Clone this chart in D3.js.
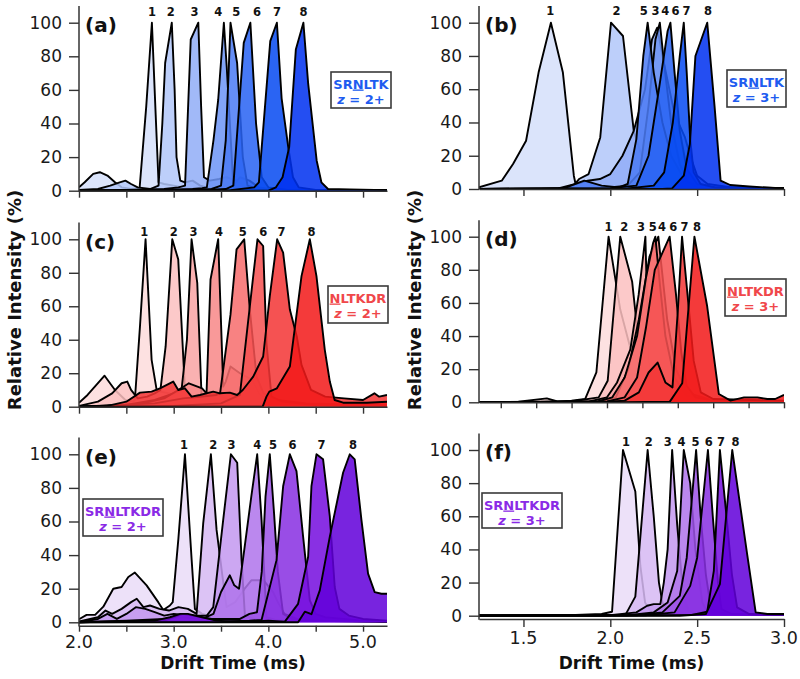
<!DOCTYPE html>
<html><head><meta charset="utf-8">
<script src="https://cdn.jsdelivr.net/npm/d3@7"></script>
<style>body{margin:0;background:#fff} svg{display:block} text{font-family:"DejaVu Sans",Verdana,sans-serif}</style>
</head><body><svg id="c" width="800" height="679"></svg>
<script>
// ---------------- DATA ----------------
const panelLetters = ["(a)","(b)","(c)","(d)","(e)","(f)"];
const legendNames = ["SRNLTK","SRNLTK","NLTKDR","NLTKDR","SRNLTKDR","SRNLTKDR"];
const legendUnderline = [2,2,0,0,2,2];
const legendCharges = ["2+","3+","2+","3+","2+","3+"];
const peakNames = ["1","2","3","4","5","6","7","8"];
const yTicks = [0,20,40,60,80,100];
const xTicksLeft = [2.0,2.5,3.0,3.5,4.0,4.5,5.0];
const xTickLabelsLeft = {2.0:"2.0",3.0:"3.0",4.0:"4.0",5.0:"5.0"};
const xTicksRight = [1.5,2.0,2.5,3.0];
const xTickLabelsRight = {1.5:"1.5",2.0:"2.0",2.5:"2.5",3.0:"3.0"};
const xTicksD = [1.4,1.6,1.8,2.0,2.2,2.4,2.6,2.8,3.0];
const xAxisTitle = "Drift Time (ms)";
const yAxisTitle = "Relative Intensity (%)";

// (a) SRNLTK 2+
const seriesA = [
 [[2.0,2],[2.06,5],[2.15,10],[2.22,11],[2.3,9],[2.38,5],[2.45,2],[2.55,1],[2.64,1.5],[2.71,50],[2.77,100],[2.81,45],[2.84,5],[2.9,4],[3.0,3],[3.1,2],[3.3,1],[3.6,0.5],[5.253,0.3]],
 [[2.0,0.5],[2.2,1],[2.33,3],[2.43,5],[2.49,6],[2.55,4],[2.62,2],[2.75,1],[2.84,3],[2.88,40],[2.91,76],[2.98,100],[3.01,60],[3.03,20],[3.07,6],[3.12,5],[3.2,6],[3.28,3],[3.4,1],[3.8,0.5],[5.253,0.3]],
 [[2.0,0],[2.5,0.5],[2.9,1],[3.05,2],[3.12,3],[3.18,90],[3.26,100],[3.29,50],[3.32,8],[3.38,6],[3.48,7],[3.56,8],[3.66,6],[3.74,3],[3.85,1],[4.2,0.5],[5.253,0.3]],
 [[2.0,0],[2.8,0.5],[3.2,1],[3.3,1.5],[3.35,2],[3.42,30],[3.47,54],[3.53,100],[3.56,74],[3.63,3],[3.7,8],[3.8,6],[3.9,2],[4.1,0.5],[5.253,0.3]],
 [[2.0,0],[3.0,0.3],[3.4,1],[3.5,3],[3.55,30],[3.58,70],[3.6,100],[3.67,76],[3.73,20],[3.78,3],[3.9,1],[4.2,0.5],[5.253,0.3]],
 [[2.0,0],[3.3,0.3],[3.55,1],[3.63,3],[3.74,88],[3.81,100],[3.87,40],[3.93,8],[4.0,2],[4.2,0.5],[5.253,0.3]],
 [[2.0,0],[3.6,0.3],[3.85,2],[3.9,5],[4.02,89],[4.09,100],[4.14,55],[4.21,26],[4.26,8],[4.32,2],[4.5,0.5],[5.253,0.3]],
 [[2.0,0],[4.0,0],[4.08,2],[4.15,8],[4.22,26],[4.29,84],[4.37,100],[4.42,64],[4.51,18],[4.56,5],[4.63,1],[4.86,0.8],[5.253,0.3]]
];
const labelXA = [2.77,2.97,3.22,3.47,3.66,3.88,4.09,4.37];

// (b) SRNLTK 3+
const seriesB = [
 [[1.244,1],[1.375,5],[1.44,15],[1.515,29],[1.587,70],[1.658,100],[1.727,70],[1.79,8],[1.80,3],[1.87,2],[1.95,1],[2.1,0.5],[3.0,0]],
 [[1.244,0],[1.6,0],[1.72,0.5],[1.78,1],[1.82,6],[1.875,9],[1.942,31],[2.004,100],[2.073,92],[2.135,35],[2.21,10],[2.27,3],[2.35,1],[3.0,0.5]],
 [[1.244,0],[1.7,0.3],[1.80,3],[1.87,5],[1.94,6],[2.0,9],[2.07,20],[2.135,35],[2.2,60],[2.24,90],[2.27,97],[2.31,75],[2.37,45],[2.43,31],[2.46,20],[2.5,8],[2.56,3],[2.7,1],[3.0,0.5]],
 [[1.244,0],[1.95,0.5],[2.1,2],[2.17,10],[2.22,50],[2.26,90],[2.285,100],[2.31,75],[2.35,40],[2.4,15],[2.45,4],[2.55,1],[3.0,0.3]],
 [[1.244,0],[1.73,0.3],[1.85,5],[1.95,2],[2.05,1],[2.1,3],[2.15,30],[2.19,80],[2.215,100],[2.25,70],[2.3,40],[2.35,20],[2.43,5],[2.5,1],[3.0,0.3]],
 [[1.244,0],[2.0,0.5],[2.15,2],[2.22,20],[2.28,60],[2.33,95],[2.346,100],[2.37,70],[2.40,35],[2.44,12],[2.5,3],[2.6,1],[3.0,0.3]],
 [[1.244,0],[2.1,0.3],[2.25,2],[2.31,10],[2.36,40],[2.40,80],[2.423,100],[2.44,70],[2.46,30],[2.48,10],[2.52,3],[2.6,1],[3.0,0.3]],
 [[1.244,0],[2.3,0],[2.356,0.4],[2.423,8],[2.458,27],[2.49,80],[2.558,100],[2.6,50],[2.635,5],[2.69,2.4],[2.8,1.5],[3.0,0.3]]
];
const labelXB = [1.654,2.035,2.26,2.317,2.192,2.375,2.438,2.562];

// (c) NLTKDR 2+
const seriesC = [
 [[2.0,2.4],[2.09,7],[2.27,18.5],[2.38,10],[2.49,4],[2.57,3],[2.59,4],[2.644,48],[2.703,100],[2.767,28],[2.82,10],[2.86,9],[2.95,8],[3.1,5],[3.3,3],[3.6,1],[5.253,0.5]],
 [[2.0,0.5],[2.2,3],[2.35,8],[2.45,14],[2.51,15],[2.55,10],[2.62,5],[2.72,6],[2.8,8],[2.86,10],[2.915,36],[2.985,100],[3.048,88],[3.119,10],[3.2,6],[3.35,4],[3.6,2],[5.253,0.5]],
 [[2.0,0],[2.5,1],[2.8,4],[3.0,8],[3.083,10],[3.14,40],[3.189,100],[3.249,74],[3.294,7],[3.35,6],[3.42,8],[3.5,6],[3.6,4],[3.8,2],[4.2,1],[5.253,0.5]],
 [[2.0,0],[2.6,1],[2.9,5],[3.05,10],[3.16,14],[3.30,11],[3.347,8],[3.389,76],[3.47,100],[3.523,12],[3.55,15],[3.60,24],[3.7,20],[3.83,16],[3.9,8],[4.0,3],[4.3,1],[5.253,0.5]],
 [[2.0,0],[2.8,2],[3.1,5],[3.3,6],[3.45,7],[3.49,8],[3.6,55],[3.664,94],[3.745,100],[3.804,58],[3.875,18],[3.95,8],[4.1,4],[4.4,2],[5.253,1]],
 [[2.0,0],[3.0,0.5],[3.5,2],[3.699,7],[3.84,78],[3.885,100],[3.945,96],[3.98,38],[4.033,6],[4.15,3],[4.5,1],[5.253,0.5]],
 [[2.0,0],[2.3,0.5],[2.5,3],[2.644,8.4],[2.767,9],[2.855,11],[2.995,15],[3.048,10],[3.119,11],[3.189,6],[3.277,7],[3.418,9],[3.488,8],[3.593,8.4],[3.67,7],[3.73,10],[3.84,18],[3.945,30],[4.015,66],[4.093,100],[4.156,92],[4.227,58],[4.3,42],[4.35,25],[4.45,10],[4.6,6],[4.8,5],[5.0,4],[5.12,8],[5.17,6],[5.253,7]],
 [[2.0,0],[3.94,0],[3.98,6],[4.01,9],[4.09,11],[4.227,24],[4.35,78],[4.438,100],[4.508,78],[4.596,34],[4.649,15],[4.70,4],[4.79,2.4],[5.04,2.4],[5.253,3]]
];
const labelXC = [2.69,3.0,3.21,3.48,3.73,3.945,4.14,4.455];

// (d) NLTKDR 3+
const seriesD = [
 [[1.277,0],[1.5,0.3],[1.66,2.4],[1.72,0.5],[1.8,1],[1.877,2],[1.94,18],[2.009,100],[2.075,56],[2.151,25],[2.226,5],[2.3,2],[2.5,1],[3.0,0.5]],
 [[1.277,0],[1.8,0.5],[1.953,3],[2.004,13],[2.034,50],[2.075,100],[2.142,73],[2.17,45],[2.217,17],[2.264,3],[2.35,1],[3.0,0.5]],
 [[1.277,0],[1.9,0.5],[2.0,3],[2.057,12],[2.132,32],[2.179,65],[2.217,100],[2.235,25],[2.27,8],[2.35,3],[2.5,1],[3.0,0.5]],
 [[1.277,0],[1.95,0.5],[2.05,3],[2.12,20],[2.18,50],[2.24,88],[2.29,100],[2.31,80],[2.34,50],[2.39,20],[2.45,6],[2.6,1],[3.0,0.5]],
 [[1.277,0],[1.95,0.5],[2.03,3],[2.1,15],[2.17,40],[2.22,75],[2.26,96],[2.273,100],[2.3,70],[2.33,40],[2.38,15],[2.45,4],[2.6,1],[3.0,0.5]],
 [[1.277,0],[2.0,0.5],[2.1,3],[2.17,15],[2.22,45],[2.27,80],[2.354,100],[2.39,65],[2.42,30],[2.45,10],[2.5,3],[2.6,1],[3.0,0.5]],
 [[1.277,0],[2.0,0.3],[2.1,1],[2.18,6],[2.235,18],[2.286,24],[2.33,12],[2.37,9],[2.40,55],[2.424,100],[2.455,65],[2.49,25],[2.53,6],[2.6,2],[3.0,1]],
 [[1.277,0],[2.1,0],[2.355,0.4],[2.425,11.5],[2.494,100],[2.566,58],[2.632,5],[2.698,1],[2.774,3],[2.85,3],[2.906,2],[2.95,2],[3.0,4.5]]
];
const labelXD = [2.009,2.098,2.192,2.311,2.258,2.374,2.438,2.509];

// (e) SRNLTKDR 2+
const seriesE = [
 [[2.0,1.8],[2.08,4.4],[2.17,4.4],[2.257,9.3],[2.362,20],[2.45,21],[2.521,27],[2.59,29.6],[2.714,22],[2.837,12],[2.89,7.3],[2.96,10],[2.99,12],[3.05,50],[3.119,100],[3.19,37],[3.224,8],[3.3,5],[3.45,3],[3.6,2],[4.0,1],[5.253,0.5]],
 [[2.0,0.5],[2.2,3],[2.28,7],[2.35,5],[2.45,8],[2.55,12],[2.61,14],[2.68,9],[2.75,10],[2.85,8],[2.95,7],[3.05,9],[3.15,8],[3.242,5],[3.312,59],[3.393,100],[3.453,55],[3.516,27],[3.558,9],[3.65,12],[3.75,20],[3.82,25],[3.95,25],[4.05,18],[4.1,12],[4.17,5],[4.3,2],[4.6,1],[5.253,0.5]],
 [[2.0,0],[2.2,2],[2.3,5],[2.4,2],[2.5,5],[2.6,9],[2.7,8],[2.8,6],[2.9,4],[3.0,5],[3.2,4],[3.35,4],[3.418,9],[3.523,61],[3.604,100],[3.671,95],[3.717,37],[3.752,4],[3.85,2],[4.2,1],[5.253,0.5]],
 [[2.0,0],[2.5,1],[2.9,2],[3.1,3],[3.3,2],[3.42,5],[3.50,18],[3.593,28],[3.64,22],[3.69,20],[3.75,45],[3.82,75],[3.882,100],[3.928,61],[3.98,3],[4.1,1],[5.253,0.5]],
 [[2.0,0],[2.9,1],[3.1,5],[3.2,4],[3.4,2],[3.7,2],[3.8,5],[3.88,6],[3.93,30],[3.97,75],[4.015,100],[4.06,65],[4.1,30],[4.156,5],[4.25,2],[4.5,1],[5.253,0.5]],
 [[2.0,0],[3.5,0.5],[3.8,1],[3.928,1.4],[4.086,37],[4.156,81],[4.227,100],[4.297,90],[4.367,51],[4.438,13],[4.5,5],[4.6,3],[5.0,1],[5.253,0.5]],
 [[2.0,0],[2.8,1],[2.96,3],[3.07,5],[3.15,5],[3.3,3],[3.45,1],[3.6,0.5],[3.85,0.5],[4.0,1],[4.174,0.4],[4.314,11],[4.42,39],[4.455,81],[4.508,100],[4.578,97],[4.649,63],[4.701,21],[4.75,8],[4.85,4],[5.0,2],[5.253,1]],
 [[2.0,0],[4.314,0],[4.385,6.3],[4.455,4.8],[4.543,19],[4.649,51],[4.789,89],[4.86,100],[4.912,97],[4.983,61],[5.053,29],[5.123,18],[5.194,17],[5.253,17]]
];
const labelXE = [3.108,3.418,3.611,3.882,4.05,4.255,4.561,4.895];

// (f) SRNLTKDR 3+
const seriesF = [
 [[1.244,0.3],[1.6,0.3],[1.8,0.5],[1.95,1],[2.01,2.4],[2.073,100],[2.144,75],[2.173,30],[2.2,8],[2.23,3],[2.3,1],[3.0,0.5]],
 [[1.244,0],[1.9,0.3],[2.087,0.5],[2.144,11.5],[2.215,100],[2.25,60],[2.28,20],[2.3,8],[2.33,3],[2.4,1],[3.0,0.5]],
 [[1.244,0],[2.0,0.3],[2.15,2],[2.212,6],[2.25,7],[2.288,7],[2.308,20],[2.33,40],[2.356,100],[2.385,55],[2.42,12],[2.45,3],[2.55,1],[3.0,0.5]],
 [[1.244,0],[2.1,0.3],[2.25,2],[2.33,8],[2.385,27],[2.423,100],[2.46,80],[2.49,40],[2.53,8],[2.56,2],[2.7,1],[3.0,0.5]],
 [[1.244,0],[2.15,0.3],[2.3,2],[2.40,12],[2.44,35],[2.494,100],[2.52,60],[2.55,25],[2.58,4],[2.65,1],[3.0,0.5]],
 [[1.244,0],[2.2,0.3],[2.37,2],[2.46,18],[2.5,35],[2.562,100],[2.59,60],[2.62,20],[2.64,4],[2.7,1],[3.0,0.5]],
 [[1.244,0],[2.3,0.3],[2.47,0.5],[2.558,2.4],[2.596,27],[2.631,100],[2.669,60],[2.7,25],[2.73,5],[2.8,1],[3.0,0.5]],
 [[1.244,0],[2.4,0],[2.55,1],[2.631,19],[2.702,100],[2.788,37],[2.837,2],[2.904,1],[3.0,1]]
];
const labelXF = [2.09,2.221,2.331,2.41,2.49,2.567,2.638,2.721];

// ---------------- STYLE / LAYOUT ----------------
const FILL_A = 0.86;
function pal(light, dark){
  const it = d3.interpolateRgb(light, dark);
  const f = v => Math.max(0, Math.min(255, (v - 255*(1-FILL_A))/FILL_A));
  return d3.range(8).map(i => { const c = d3.rgb(it(i/7)); return d3.rgb(f(c.r), f(c.g), f(c.b)).formatHex(); });
}
const palettes = {
  blue: pal("#dbe4fb", "#0c4ef2"),
  red: pal("#fde1e1", "#f43a3a"),
  purple: pal("#ede1f9", "#7812df")
};
const legendColors = {blue:"#1e5cf0", red:"#f0474a", purple:"#8a2ae6"};

const L = [79, 387], R = [479, 784];
const panels = [
 {data:seriesA, lx:labelXA, pal:"blue", xDom:[2.0,5.253], xr:L, zero:190.7, y100:22.7, axisY:190.7, ticks:xTicksLeft, tickLen:7, tl:null, lblOff:-6.7, leg:{x:331,y:72,w:60,h:36}},
 {data:seriesB, lx:labelXB, pal:"blue", xDom:[1.244,3.0], xr:R, zero:189.0, y100:22.7, axisY:189.0, ticks:xTicksRight, tickLen:7, tl:null, lblOff:-7.5, leg:{x:727,y:70,w:59,h:37}},
 {data:seriesC, lx:labelXC, pal:"red", xDom:[2.0,5.253], xr:L, zero:406.7, y100:239.3, axisY:406.7, ticks:xTicksLeft, tickLen:7, tl:null, lblOff:-3.2, leg:{x:328,y:286,w:60,h:37}},
 {data:seriesD, lx:labelXD, pal:"red", xDom:[1.277,3.0], xr:R, zero:402.3, y100:236.7, axisY:402.3, ticks:xTicksD, tickLen:6, tl:null, lblOff:-5.7, leg:{x:725,y:279,w:61,h:37}},
 {data:seriesE, lx:labelXE, pal:"purple", xDom:[2.0,5.253], xr:L, zero:622.3, y100:454.3, axisY:625.7, ticks:xTicksLeft, tickLen:6, tl:xTickLabelsLeft, tlY:647.5, lblOff:-5.3, leg:{x:83,y:499,w:80,h:37}},
 {data:seriesF, lx:labelXF, pal:"purple", xDom:[1.244,3.0], xr:R, zero:615.7, y100:450.0, axisY:619.0, ticks:xTicksRight, tickLen:8, tl:xTickLabelsRight, tlY:644.0, lblOff:-4.5, leg:{x:482,y:493,w:80,h:35}}
];

const svg = d3.select("#c");
const defs = svg.append("defs");

panels.forEach((p, pi) => {
  const x = d3.scaleLinear().domain(p.xDom).range(p.xr);
  const k = (p.zero - p.y100) / 100;
  const y = d3.scaleLinear().domain([0, 110]).range([p.zero, p.zero - 110 * k]);
  const colors = palettes[p.pal];
  const g = svg.append("g");

  const cid = "clip" + pi;
  defs.append("clipPath").attr("id", cid).append("rect")
    .attr("x", p.xr[0]).attr("y", y(110) - 8)
    .attr("width", p.xr[1] - p.xr[0]).attr("height", p.axisY - y(110) + 8);
  const plot = g.append("g").attr("clip-path", `url(#${cid})`);

  const area = d3.area().x(d => x(d[0])).y0(y(0)).y1(d => y(d[1]));
  const line = d3.line().x(d => x(d[0])).y(d => y(d[1]));
  p.data.forEach((s, i) => {
    plot.append("path").attr("d", area(s)).attr("fill", colors[i]).attr("fill-opacity", FILL_A);
    plot.append("path").attr("d", line(s)).attr("fill", "none").attr("stroke", "#000")
      .attr("stroke-width", 1.9).attr("stroke-linejoin", "round");
  });

  // peak labels
  p.lx.forEach((lx, i) => {
    g.append("text").attr("x", x(lx)).attr("y", y(100) + p.lblOff)
      .attr("text-anchor", "middle").attr("font-weight", "bold").attr("font-size", 11.5)
      .attr("fill", "#111").text(peakNames[i]);
  });

  // y axis
  const ya = d3.axisLeft(y).tickValues(yTicks).tickSize(10).tickPadding(7).tickSizeOuter(0).tickFormat(d3.format("d"));
  const yg = g.append("g").attr("transform", `translate(${p.xr[0]},0)`).call(ya);
  yg.select(".domain").remove();
  yg.selectAll(".tick line").attr("stroke", "#333").attr("stroke-width", 1.4);
  yg.selectAll(".tick text").attr("font-size", 17).attr("fill", "#1a1a1a").attr("font-family", '"DejaVu Sans",Verdana,sans-serif');
  g.append("line").attr("x1", p.xr[0]).attr("x2", p.xr[0]).attr("y1", y(110)).attr("y2", p.axisY + 0.7)
    .attr("stroke", "#333").attr("stroke-width", 1.5);

  // x axis
  const xa = d3.axisBottom(x).tickValues(p.ticks).tickSize(p.tickLen).tickSizeOuter(0)
    .tickFormat(d => "");
  const xg = g.append("g").attr("transform", `translate(0,${p.axisY})`).call(xa);
  xg.select(".domain").attr("stroke", "#333").attr("stroke-width", 1.5);
  xg.selectAll(".tick line").attr("stroke", "#333").attr("stroke-width", 1.4);
  if (p.tl) {
    Object.keys(p.tl).forEach(key => {
      g.append("text").attr("x", x(+key)).attr("y", p.tlY).attr("text-anchor", "middle")
        .attr("font-size", 17.5).attr("fill", "#1a1a1a").text(p.tl[key]);
    });
    g.append("text").attr("x", (p.xr[0] + p.xr[1]) / 2).attr("y", 669).attr("text-anchor", "middle")
      .attr("font-weight", "bold").attr("font-size", 17).attr("fill", "#111").text(xAxisTitle);
  }

  // panel letter
  g.append("text").attr("x", p.xr[0] + 6).attr("y", y(100) + 9.3).attr("font-weight", "bold")
    .attr("font-size", 20).attr("fill", "#111").text(panelLetters[pi]);

  // legend box
  const lg = p.leg, col = legendColors[p.pal];
  g.append("rect").attr("x", lg.x).attr("y", lg.y).attr("width", lg.w).attr("height", lg.h)
    .attr("fill", "#fff").attr("stroke", "#3a3a3a").attr("stroke-width", 1.6);
  const nm = legendNames[pi], u = legendUnderline[pi];
  const t1 = g.append("text").attr("x", lg.x + lg.w / 2).attr("y", lg.y + 16.5).attr("text-anchor", "middle")
    .attr("font-weight", "bold").attr("font-size", 13).attr("fill", col);
  t1.append("tspan").text(nm.slice(0, u));
  t1.append("tspan").style("text-decoration", "underline").text(nm[u]);
  t1.append("tspan").text(nm.slice(u + 1));
  const t2 = g.append("text").attr("x", lg.x + lg.w / 2).attr("y", lg.y + 31.5).attr("text-anchor", "middle")
    .attr("font-weight", "bold").attr("font-size", 13).attr("fill", col);
  t2.append("tspan").attr("font-style", "italic").text("z");
  t2.append("tspan").text(" = " + legendCharges[pi]);
});

// y axis titles
[14, 414].forEach(cx => {
  svg.append("text").attr("transform", `translate(${cx},300) rotate(-90)`).attr("y", 6.5)
    .attr("text-anchor", "middle").attr("font-weight", "bold").attr("font-size", 18)
    .attr("fill", "#111").text(yAxisTitle);
});
</script></body></html>
